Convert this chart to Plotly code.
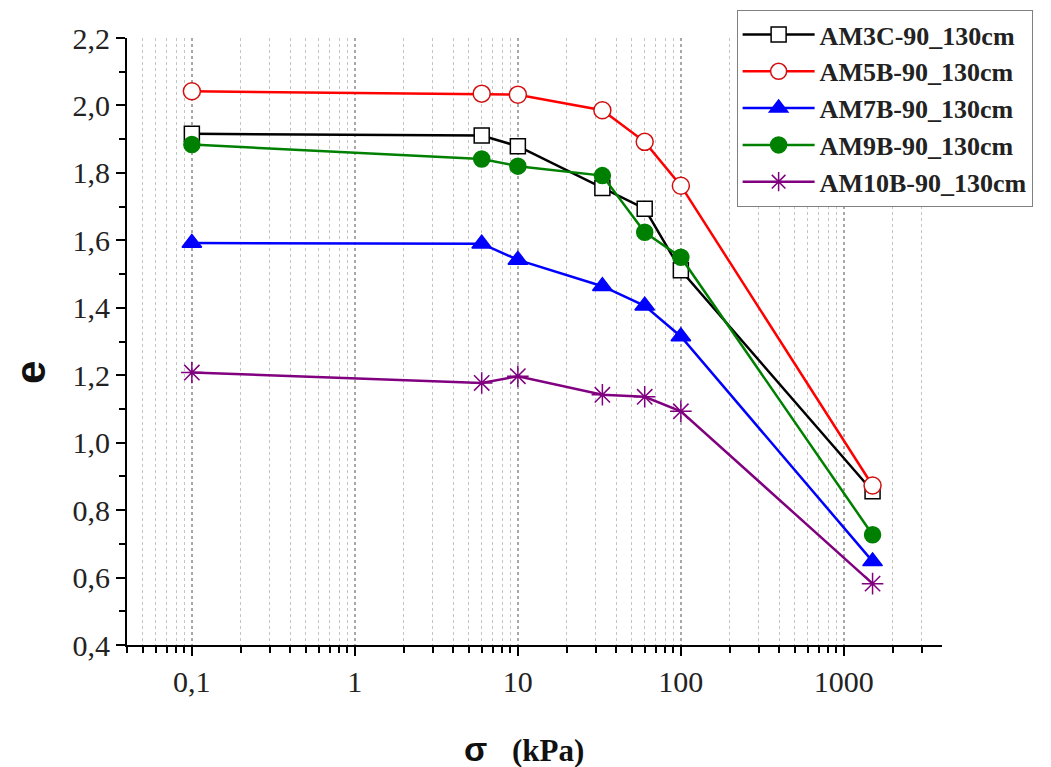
import plotly.graph_objects as go

# ---- data ----
sigma_kpa = [0.1, 6, 10, 33, 60, 100, 1500]

series_names = ["AM3C-90_130cm", "AM5B-90_130cm", "AM7B-90_130cm",
                "AM9B-90_130cm", "AM10B-90_130cm"]
e_am3c = [1.916, 1.911, 1.879, 1.755, 1.694, 1.511, 0.856]
e_am5b = [2.042, 2.035, 2.032, 1.986, 1.892, 1.762, 0.873]
e_am7b = [1.592, 1.590, 1.542, 1.464, 1.406, 1.315, 0.648]
e_am9b = [1.884, 1.841, 1.820, 1.792, 1.624, 1.550, 0.727]
e_am10b = [1.208, 1.177, 1.197, 1.142, 1.136, 1.093, 0.582]

x_tick_vals = [0.1, 1, 10, 100, 1000]
x_tick_text = ["0,1", "1", "10", "100", "1000"]
y_tick_vals = [0.4, 0.6, 0.8, 1.0, 1.2, 1.4, 1.6, 1.8, 2.0, 2.2]
y_tick_text = ["0,4", "0,6", "0,8", "1,0", "1,2", "1,4", "1,6", "1,8", "2,0", "2,2"]

# ---- styles ----
styles = [
    dict(color="#000000", symbol="square", fill="#ffffff", lc="#000000", size=15),
    dict(color="#ff0000", symbol="circle", fill="#ffffff", lc="#d01010", size=17),
    dict(color="#0000ff", symbol="triangle-up", fill="#0000ff", lc="#0000ff", size=17),
    dict(color="#008000", symbol="circle", fill="#008000", lc="#008000", size=16),
    dict(color="#800080", symbol="asterisk-open", fill="#800080", lc="#800080", size=18),
]
all_e = [e_am3c, e_am5b, e_am7b, e_am9b, e_am10b]

fig = go.Figure()
for name, ys, st in zip(series_names, all_e, styles):
    fig.add_trace(go.Scatter(
        x=sigma_kpa, y=ys, name=name, mode="lines+markers",
        line=dict(color=st["color"], width=2.5),
        marker=dict(symbol=st["symbol"], size=st["size"], color=st["fill"],
                    line=dict(color=st["lc"], width=1.5)),
    ))

minor_x = [m * 10 ** d for d in range(-2, 4) for m in range(2, 10)
           if 0.04 <= m * 10 ** d <= 3000]

serif = "Liberation Serif, Times New Roman, serif"
sans = "Liberation Sans, Arial, sans-serif"

fig.update_layout(
    width=1043, height=759,
    paper_bgcolor="white", plot_bgcolor="white",
    margin=dict(l=119, r=109, t=30, b=122, autoexpand=False),
    showlegend=True,
    legend=dict(
        x=0.748, y=1.046, xanchor="left", yanchor="top",
        bgcolor="white", bordercolor="#808080", borderwidth=1,
        font=dict(family=serif, size=26, color="#222222", weight="bold"),
        itemwidth=72, tracegroupgap=0,
    ),
    xaxis=dict(
        type="log", range=[-1.39794, 3.60206], automargin=False,
        tickmode="array", tickvals=x_tick_vals, ticktext=x_tick_text,
        ticks="outside", ticklen=9, tickwidth=2, tickcolor="black",
        showline=True, linecolor="black", linewidth=2,
        showgrid=True, gridcolor="#a8a8a8", griddash="dot", gridwidth=2,
        zeroline=False,
        tickfont=dict(family=serif, size=30, color="#222222"),
        minor=dict(tickmode="array", tickvals=minor_x, ticks="outside",
                   ticklen=6, tickwidth=1.5, tickcolor="black",
                   showgrid=True, gridcolor="#c4c4c4", griddash="dot", gridwidth=1),
    ),
    yaxis=dict(
        range=[0.4, 2.2], automargin=False,
        tickmode="array", tickvals=y_tick_vals, ticktext=y_tick_text,
        ticks="outside", ticklen=9, tickwidth=2, tickcolor="black",
        showline=True, linecolor="black", linewidth=2,
        showgrid=False, zeroline=False,
        tickfont=dict(family=serif, size=30, color="#222222"),
        minor=dict(dtick=0.1, ticks="outside", ticklen=6, tickwidth=1.5,
                   tickcolor="black", showgrid=False),
    ),
    annotations=[
        dict(text="<b>σ</b>", x=0.427, y=-0.171, xref="paper", yref="paper",
             xanchor="center", yanchor="middle", showarrow=False,
             font=dict(family=sans, size=34, color="#111111")),
        dict(text="<b>(kPa)</b>", x=0.470, y=-0.173, xref="paper", yref="paper",
             xanchor="left", yanchor="middle", showarrow=False,
             font=dict(family=serif, size=31, color="#111111")),
        dict(text="<b>e</b>", x=-0.119, y=0.448, xref="paper", yref="paper",
             xanchor="center", yanchor="middle", showarrow=False, textangle=-90,
             font=dict(family=sans, size=42, color="#111111")),
    ],
)

fig.write_html("out.html")
